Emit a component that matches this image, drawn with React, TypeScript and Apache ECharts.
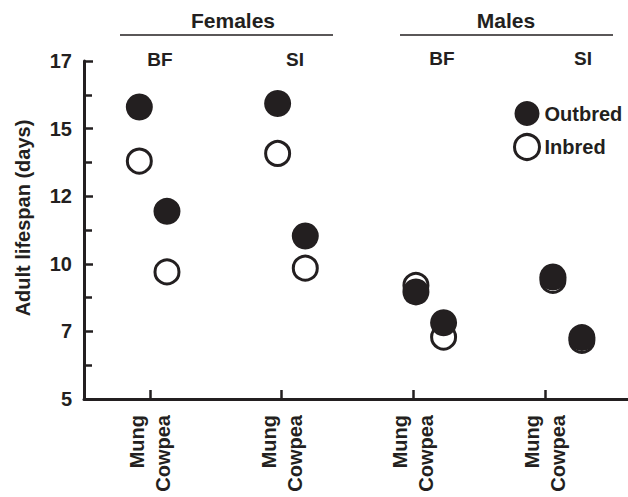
import React, { useEffect, useRef } from "react";
import * as echarts from "echarts";

// Groups along the x axis (sex × population), each with two hosts
const groupTicks = [1, 2, 3, 4];
const hostLabels = ["Mung", "Cowpea"];
// x positions (axis units) of the points for each host
const mungX = [0.92, 1.97, 3.02, 4.06];
const cowpeaX = [1.13, 2.18, 3.23, 4.28];

// Adult lifespan (days) per group: Females BF, Females SI, Males BF, Males SI
const outbredMung = [15.8, 15.93, 8.96, 9.51];
const outbredCowpea = [11.94, 11.03, 7.82, 7.27];
const inbredMung = [13.8, 14.08, 9.2, 9.39];
const inbredCowpea = [9.7, 9.84, 7.29, 7.17];

const yMin = 5;
const yMax = 17.5;
const yInterval = 2.5;

const INK = "#231f20";
const FONT = "'Liberation Sans', Arial, Helvetica, sans-serif";

function pairs(xs: number[], ys: number[]) {
  return xs.map((x, i) => [x, ys[i]]);
}

export default function App() {
  const ref = useRef<HTMLDivElement>(null);
  useEffect(() => {
    document.body.style.margin = "0";
    if (!ref.current) return;
    const chart = echarts.init(ref.current, null, { renderer: "svg" });
    const textBase = { fontFamily: FONT, fontWeight: "bold" as const, fill: INK };
    chart.setOption({
      animation: false,
      backgroundColor: "#ffffff",
      grid: { left: 84, top: 61, right: 0, bottom: 98, containLabel: false },
      xAxis: {
        type: "value",
        min: 0.5,
        max: 4.63,
        axisLine: { show: true, onZero: false, lineStyle: { color: INK, width: 3 } },
        axisTick: {
          show: true,
          inside: true,
          length: 9,
          customValues: groupTicks,
          lineStyle: { color: INK, width: 2.5 },
        },
        axisLabel: {
          show: true,
          customValues: groupTicks,
          rotate: 90,
          margin: 16,
          fontFamily: FONT,
          fontWeight: "bold",
          fontSize: 20,
          lineHeight: 26,
          padding: [0, 0, 8, 0],
          color: INK,
          formatter: () => hostLabels.join("\n"),
        },
        splitLine: { show: false },
      },
      yAxis: {
        type: "value",
        min: yMin,
        max: yMax,
        interval: yInterval,
        axisLine: { show: true, onZero: false, lineStyle: { color: INK, width: 3 } },
        axisTick: { show: true, inside: true, length: 9, lineStyle: { color: INK, width: 2.5 } },
        minorTick: { show: true, splitNumber: 2, length: 8, lineStyle: { color: INK, width: 2.5 } },
        axisLabel: {
          margin: 12,
          fontFamily: FONT,
          fontWeight: "bold",
          fontSize: 20,
          color: INK,
          formatter: (v: number) => String(Math.floor(v)),
        },
        splitLine: { show: false },
      },
      legend: {
        orient: "vertical",
        left: 508,
        top: 96,
        padding: 5,
        itemWidth: 25,
        itemHeight: 25,
        itemGap: 7,
        icon: "circle",
        data: [
          { name: "Outbred", itemStyle: { color: INK, borderWidth: 0 } },
          { name: "Inbred", itemStyle: { color: "#ffffff", borderColor: INK, borderWidth: 3 } },
        ],
        textStyle: { fontFamily: FONT, fontWeight: "bold", fontSize: 20, color: INK },
      },
      series: [
        {
          name: "Inbred",
          type: "scatter",
          symbol: "circle",
          symbolSize: 24,
          itemStyle: { color: "#ffffff", borderColor: INK, borderWidth: 3, opacity: 1 },
          data: [...pairs(mungX, inbredMung), ...pairs(cowpeaX, inbredCowpea)],
          z: 2,
        },
        {
          name: "Outbred",
          type: "scatter",
          symbol: "circle",
          symbolSize: 27,
          itemStyle: { color: INK, opacity: 1 },
          data: [...pairs(mungX, outbredMung), ...pairs(cowpeaX, outbredCowpea)],
          z: 3,
        },
      ],
      graphic: [
        {
          type: "text",
          x: 23,
          y: 218,
          rotation: Math.PI / 2,
          style: { ...textBase, text: "Adult lifespan (days)", fontSize: 20, align: "center", verticalAlign: "middle" },
        },
        {
          type: "text",
          x: 233,
          y: 20,
          style: { ...textBase, text: "Females", fontSize: 21, align: "center", verticalAlign: "middle" },
        },
        {
          type: "line",
          shape: { x1: 120, y1: 35, x2: 333, y2: 35 },
          style: { stroke: INK, lineWidth: 1.5 },
        },
        {
          type: "text",
          x: 506,
          y: 20,
          style: { ...textBase, text: "Males", fontSize: 21, align: "center", verticalAlign: "middle" },
        },
        {
          type: "line",
          shape: { x1: 400, y1: 35, x2: 613, y2: 35 },
          style: { stroke: INK, lineWidth: 1.5 },
        },
        {
          type: "text",
          x: 160,
          y: 59,
          style: { ...textBase, text: "BF", fontSize: 19, align: "center", verticalAlign: "middle" },
        },
        {
          type: "text",
          x: 295,
          y: 59,
          style: { ...textBase, text: "SI", fontSize: 19, align: "center", verticalAlign: "middle" },
        },
        {
          type: "text",
          x: 442,
          y: 58,
          style: { ...textBase, text: "BF", fontSize: 19, align: "center", verticalAlign: "middle" },
        },
        {
          type: "text",
          x: 583,
          y: 58,
          style: { ...textBase, text: "SI", fontSize: 19, align: "center", verticalAlign: "middle" },
        },
      ],
    });
    return () => chart.dispose();
  }, []);
  return <div ref={ref} style={{ width: 628, height: 497 }} />;
}
